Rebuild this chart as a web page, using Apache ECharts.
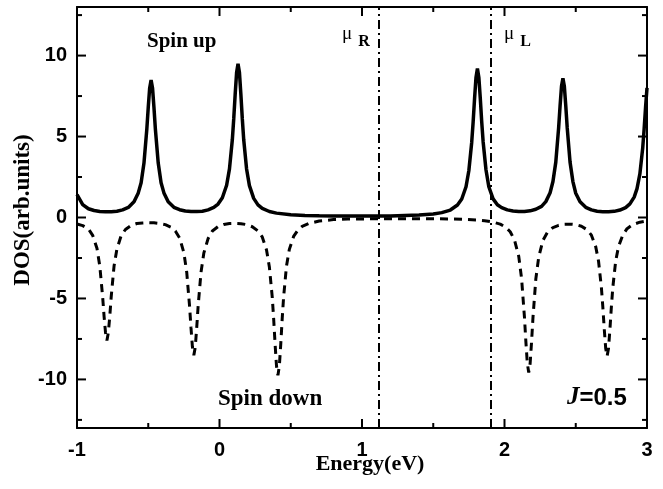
<!DOCTYPE html>
<html>
<head>
<meta charset="utf-8">
<script src="https://cdn.jsdelivr.net/npm/echarts@6.0.0/dist/echarts.min.js"></script>
<style>
  body { margin: 0; background: #fff; }
  #dos { width: 663px; height: 489px; }
</style>
</head>
<body>
<div id="dos"></div>
<script>
// spin up DOS (solid line)
const spinUpE = [-1.0, -0.96, -0.92, -0.88, -0.84, -0.8, -0.76, -0.72, -0.68, -0.64, -0.6, -0.57, -0.55, -0.53, -0.51, -0.5, -0.49, -0.48, -0.47, -0.46, -0.45, -0.43, -0.41, -0.39, -0.36, -0.32, -0.28, -0.24, -0.2, -0.16, -0.12, -0.08, -0.04, -0.01, 0.02, 0.05, 0.07, 0.09, 0.1, 0.11, 0.12, 0.13, 0.14, 0.15, 0.16, 0.17, 0.19, 0.21, 0.24, 0.27, 0.3, 0.35, 0.4, 0.5, 0.6, 0.7, 0.8, 0.9, 1.0, 1.1, 1.2, 1.3, 1.4, 1.5, 1.56, 1.62, 1.67, 1.7, 1.73, 1.75, 1.77, 1.78, 1.79, 1.8, 1.81, 1.82, 1.83, 1.84, 1.85, 1.87, 1.89, 1.92, 1.95, 1.98, 2.02, 2.06, 2.1, 2.14, 2.18, 2.22, 2.26, 2.29, 2.32, 2.34, 2.36, 2.38, 2.39, 2.4, 2.41, 2.42, 2.43, 2.44, 2.46, 2.48, 2.5, 2.53, 2.57, 2.61, 2.65, 2.69, 2.73, 2.77, 2.81, 2.85, 2.88, 2.91, 2.93, 2.95, 2.97, 2.98, 2.99, 3.0];
const spinUpDOS = [1.42, 0.80, 0.54, 0.43, 0.37, 0.35, 0.36, 0.39, 0.47, 0.62, 0.97, 1.52, 2.15, 3.36, 5.46, 6.8, 8.0, 8.48, 8.0, 6.8, 5.46, 3.36, 2.15, 1.52, 0.97, 0.63, 0.48, 0.40, 0.37, 0.37, 0.39, 0.47, 0.62, 0.83, 1.22, 1.99, 3.0, 4.8, 6.1, 7.6, 8.95, 9.5, 8.95, 7.6, 6.1, 4.8, 3.0, 1.97, 1.18, 0.78, 0.56, 0.37, 0.27, 0.17, 0.13, 0.11, 0.10, 0.09, 0.09, 0.095, 0.10, 0.13, 0.16, 0.22, 0.30, 0.46, 0.77, 1.14, 1.9, 2.9, 4.65, 5.9, 7.36, 8.65, 9.2, 8.65, 7.37, 5.92, 4.68, 2.95, 1.9, 1.15, 0.79, 0.61, 0.47, 0.40, 0.37, 0.37, 0.41, 0.51, 0.69, 0.98, 1.53, 2.22, 3.42, 5.55, 6.9, 8.1, 8.6, 8.1, 6.9, 5.55, 3.42, 2.22, 1.5, 0.97, 0.63, 0.47, 0.39, 0.36, 0.35, 0.38, 0.46, 0.61, 0.84, 1.26, 1.78, 2.69, 4.3, 5.48, 6.82, 8.0];

// spin down DOS (dashed line)
const spinDownE = [-1.0, -0.96, -0.92, -0.89, -0.86, -0.84, -0.82, -0.81, -0.8, -0.79, -0.78, -0.77, -0.76, -0.74, -0.72, -0.69, -0.66, -0.62, -0.58, -0.54, -0.5, -0.46, -0.42, -0.38, -0.34, -0.31, -0.28, -0.25, -0.23, -0.21, -0.2, -0.19, -0.18, -0.17, -0.16, -0.15, -0.13, -0.11, -0.08, -0.05, -0.01, 0.03, 0.07, 0.11, 0.15, 0.19, 0.23, 0.27, 0.3, 0.33, 0.35, 0.37, 0.38, 0.39, 0.4, 0.41, 0.42, 0.43, 0.44, 0.45, 0.47, 0.49, 0.52, 0.55, 0.58, 0.63, 0.7, 0.8, 0.9, 1.0, 1.1, 1.2, 1.3, 1.4, 1.5, 1.6, 1.7, 1.8, 1.86, 1.92, 1.97, 2.01, 2.04, 2.07, 2.1, 2.12, 2.14, 2.15, 2.16, 2.17, 2.18, 2.19, 2.2, 2.22, 2.24, 2.27, 2.3, 2.34, 2.38, 2.42, 2.46, 2.5, 2.54, 2.58, 2.61, 2.64, 2.66, 2.68, 2.69, 2.7, 2.71, 2.72, 2.73, 2.74, 2.75, 2.76, 2.78, 2.8, 2.83, 2.86, 2.9, 2.95, 3.0];
const spinDownDOS = [-0.40, -0.50, -0.70, -1.1, -1.9, -3.0, -4.9, -6.1, -7.1, -7.6, -7.1, -6.1, -4.9, -3.0, -1.95, -1.12, -0.74, -0.49, -0.37, -0.34, -0.32, -0.33, -0.37, -0.44, -0.60, -0.83, -1.26, -2.17, -3.38, -5.48, -6.82, -8.0, -8.5, -8.0, -6.82, -5.48, -3.4, -2.2, -1.3, -0.83, -0.56, -0.43, -0.37, -0.36, -0.38, -0.44, -0.57, -0.83, -1.2, -2.0, -3.05, -4.9, -6.25, -7.8, -9.17, -9.75, -9.17, -7.8, -6.25, -4.9, -3.0, -1.97, -1.17, -0.78, -0.55, -0.36, -0.22, -0.13, -0.10, -0.09, -0.08, -0.07, -0.07, -0.07, -0.08, -0.09, -0.11, -0.15, -0.20, -0.28, -0.41, -0.61, -0.88, -1.38, -2.4, -3.78, -6.15, -7.67, -9.0, -9.57, -9.0, -7.67, -6.15, -3.78, -2.45, -1.41, -0.93, -0.62, -0.48, -0.42, -0.41, -0.44, -0.54, -0.76, -1.09, -1.8, -2.7, -4.33, -5.52, -6.88, -8.07, -8.57, -8.07, -6.88, -5.52, -4.33, -2.7, -1.8, -1.09, -0.69, -0.44, -0.29, -0.21];

// chemical potentials (dash-dot lines)
const muNames = ['R', 'L'];
const muValues = [1.12, 1.9];

// ticks
const xMajorTicks = [-1, 0, 1, 2, 3];
const xMinorTicks = [-0.5, 0.5, 1.5, 2.5];
const yMajorTicks = [-10, -5, 0, 5, 10];
const yMinorTicks = [-12.5, -7.5, -2.5, 2.5, 7.5, 12.5];

const xMin = -1, xMax = 3, yMin = -13, yMax = 13;

const chart = echarts.init(document.getElementById('dos'));

const zip = (xs, ys) => xs.map((x, i) => [x, ys[i]]);

const sansBold = { fontFamily: 'Liberation Sans', fontWeight: 'bold', fontSize: 20, color: '#000' };
const black2 = { color: '#000', width: 2 };

function xAxisOf(pos, withLabels) {
  return {
    type: 'value', position: pos, min: xMin, max: xMax, interval: 1,
    axisLine: { show: true, onZero: false, lineStyle: black2 },
    axisTick: { show: false },
    axisLabel: Object.assign({ show: withLabels, margin: 12 }, sansBold),
    splitLine: { show: false },
  };
}

function yAxisOf(pos, withLabels) {
  return {
    type: 'value', position: pos, min: yMin, max: yMax,
    axisLine: { show: true, onZero: false, lineStyle: black2 },
    axisTick: { show: false },
    axisLabel: Object.assign({ show: withLabels, customValues: yMajorTicks, margin: 10 }, sansBold),
    splitLine: { show: false },
  };
}

chart.setOption({
  backgroundColor: '#fff',
  animation: false,
  grid: { left: 77, right: 16, top: 7, bottom: 61, outerBoundsMode: 'none' },
  xAxis: [xAxisOf('bottom', true), xAxisOf('top', false)],
  yAxis: [yAxisOf('left', true), yAxisOf('right', false)],
  series: [
    {
      name: 'Spin up', type: 'line', showSymbol: false,
      data: zip(spinUpE, spinUpDOS),
      lineStyle: { color: '#000', width: 3.5 },
      markLine: {
        silent: true, symbol: 'none',
        label: { show: false },
        lineStyle: { color: '#000', width: 2, type: [9, 4, 2, 4] },
        data: muValues.map(v => ({ xAxis: v })),
      },
    },
    {
      name: 'Spin down', type: 'line', showSymbol: false,
      data: zip(spinDownE, spinDownDOS),
      lineStyle: { color: '#000', width: 3, type: [8, 6] },
    },
  ],
});

// inward tick marks on all four sides, placed with the chart's own scales
const toPx = (x, y) => chart.convertToPixel({ gridIndex: 0 }, [x, y]);
const gridLeft = toPx(xMin, 0)[0], gridRight = toPx(xMax, 0)[0];
const gridBottom = toPx(0, yMin)[1], gridTop = toPx(0, yMax)[1];
const tickLine = (x1, y1, x2, y2) => ({
  type: 'line', z: 100, silent: true,
  shape: { x1: x1, y1: y1, x2: x2, y2: y2 },
  style: { stroke: '#000', lineWidth: 2 },
});
const tickMarks = [];
[[xMajorTicks, 9], [xMinorTicks, 5]].forEach(([vals, len]) => vals.forEach(v => {
  const x = toPx(v, 0)[0];
  tickMarks.push(tickLine(x, gridBottom, x, gridBottom - len), tickLine(x, gridTop, x, gridTop + len));
}));
[[yMajorTicks, 9], [yMinorTicks, 5]].forEach(([vals, len]) => vals.forEach(v => {
  const y = toPx(0, v)[1];
  tickMarks.push(tickLine(gridLeft, y, gridLeft + len, y), tickLine(gridRight, y, gridRight - len, y));
}));

const texts = [
  { type: 'text', x: 23, y: 210, rotation: Math.PI / 2, style: { text: 'DOS(arb.units)', font: 'bold 23px "Liberation Serif"', fill: '#000', align: 'center', verticalAlign: 'middle' } },
  { type: 'text', x: 370, y: 464, style: { text: 'Energy(eV)', font: 'bold 22px "Liberation Serif"', fill: '#000', align: 'center', verticalAlign: 'middle' } },
  { type: 'text', x: 147, y: 42, style: { text: 'Spin up', font: 'bold 21px "Liberation Serif"', fill: '#000', verticalAlign: 'middle' } },
  { type: 'text', x: 218, y: 399, style: { text: 'Spin down', font: 'bold 23px "Liberation Serif"', fill: '#000', verticalAlign: 'middle' } },
  {
    type: 'text', x: 567, y: 398,
    style: {
      text: '{j|J}{v|=0.5}', verticalAlign: 'middle',
      rich: {
        j: { fontFamily: 'Liberation Serif', fontStyle: 'italic', fontWeight: 'bold', fontSize: 25, fill: '#000' },
        v: { fontFamily: 'Liberation Sans', fontWeight: 'bold', fontSize: 24, fill: '#000' },
      },
    },
  },
].concat(muNames.map((n, i) => ({
  type: 'text', x: [342, 504][i], y: 37,
  style: {
    text: '{m|μ}{s|' + n + '}', verticalAlign: 'middle',
    rich: {
      m: { fontFamily: 'Liberation Serif', fontSize: 19, fill: '#000', verticalAlign: 'top' },
      s: { fontFamily: 'Liberation Serif', fontWeight: 'bold', fontSize: 16, fill: '#000', padding: [9, 0, 0, 6] },
    },
  },
})));

chart.setOption({ graphic: texts.concat(tickMarks) });
</script>
</body>
</html>
